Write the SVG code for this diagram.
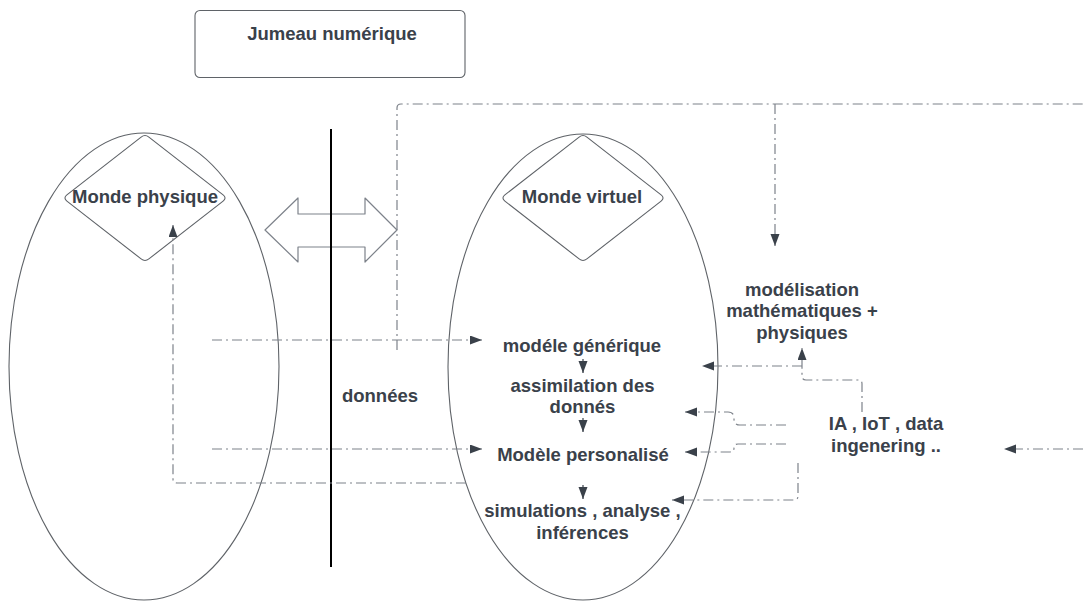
<svg xmlns="http://www.w3.org/2000/svg" width="1083" height="601" viewBox="0 0 1083 601">
<defs>
<marker id="ah" markerUnits="userSpaceOnUse" markerWidth="13" markerHeight="10" refX="12" refY="4.5" orient="auto">
<path d="M0,0 L12,4.5 L0,9 Z" fill="#3a414a"/>
</marker>
</defs>
<style>
.t{font-family:"Liberation Sans",Arial,sans-serif;font-weight:bold;font-size:18.5px;fill:#3a414a;text-anchor:middle}
.sh{fill:#fff;stroke:#5f6368;stroke-width:1.1}
.dd{fill:none;stroke:#7d828a;stroke-width:1.2;stroke-dasharray:10 4 2 4}
.ar{marker-end:url(#ah)}
.sa{fill:none;stroke:#3a414a;stroke-width:1.2;marker-end:url(#ah)}
</style>
<rect width="1083" height="601" fill="#fff"/>

<g id="jumeau">
<rect x="195" y="10.5" width="270" height="67" rx="5" class="sh"/>
<text class="t" x="332" y="40">Jumeau numérique</text>
</g>

<g id="ellipse-physique">
<ellipse cx="144" cy="366.5" rx="135" ry="233.5" class="sh"/>
</g>
<g id="ellipse-virtuel">
<ellipse cx="583" cy="367" rx="135" ry="233" class="sh"/>
</g>

<g id="monde-physique">
<path class="sh" d="M141.1,137.1 Q145,134 148.9,137.1 L223.1,194.9 Q227,198 223.1,201.1 L148.9,258.9 Q145,262 141.1,258.9 L66.9,201.1 Q63,198 66.9,194.9 Z"/>
<text class="t" x="145" y="203">Monde physique</text>
</g>

<g id="monde-virtuel">
<path class="sh" d="M579.1,137.1 Q583,134 586.9,137.1 L661.1,194.9 Q665,198 661.1,201.1 L586.9,258.9 Q583,262 579.1,258.9 L504.9,201.1 Q501,198 504.9,194.9 Z"/>
<text class="t" x="582" y="203">Monde virtuel</text>
</g>

<g id="double-arrow">
<path d="M265,230 L298,198 V214 H365 V198 L397,230 L365,262 V247 H298 V262 Z" fill="#fff" stroke="#7d828a" stroke-width="1.2" stroke-linejoin="round"/>
</g>

<g id="separator">
<line x1="331" y1="129" x2="331" y2="567" stroke="#000" stroke-width="2"/>
</g>

<g id="donnees"><text class="t" x="380" y="402">données</text></g>
<g id="modele-generique"><text class="t" x="582" y="352">modéle générique</text></g>
<g id="assimilation"><text class="t" x="582.5" y="392">assimilation des</text><text class="t" x="582.5" y="413">donnés</text></g>
<g id="modele-personalise"><text class="t" x="583" y="461">Modèle personalisé</text></g>
<g id="simulations"><text class="t" x="582.5" y="517">simulations , analyse ,</text><text class="t" x="582.5" y="539">inférences</text></g>
<g id="modelisation"><text class="t" x="802" y="296">modélisation</text><text class="t" x="802" y="317">mathématiques +</text><text class="t" x="802" y="339">physiques</text></g>
<g id="ia-iot"><text class="t" x="886" y="430">IA , IoT , data</text><text class="t" x="886" y="452">ingenering ..</text></g>

<g id="connectors">
<path class="dd ar" d="M212,340 H482"/>
<path class="dd ar" d="M212,449 H482"/>
<path class="dd ar" d="M466,483 H177 Q173,483 173,479 V225"/>
<path class="dd" d="M397,350 V108 Q397,104 401,104 H1083"/>
<path class="dd ar" d="M775,104 V246"/>
<path class="dd ar" d="M802,366 H702"/>
<path class="dd ar" d="M862,412 V384 Q862,380 858,380 H806 Q802,380 802,376 V348"/>
<path class="dd ar" d="M786,425 H740 Q734,425 734,419 V418 Q734,412 728,412 H685"/>
<path class="dd ar" d="M786,444 H738 Q734,444 734,448 Q734,452 730,452 H685"/>
<path class="dd ar" d="M798,463 V496 Q798,500 794,500 H672"/>
<path class="dd ar" d="M1083,449 H1004"/>
<path class="sa" d="M583,359 V373"/>
<path class="sa" d="M583,418 V432"/>
<path class="sa" d="M583,485 V499"/>
</g>
</svg>
